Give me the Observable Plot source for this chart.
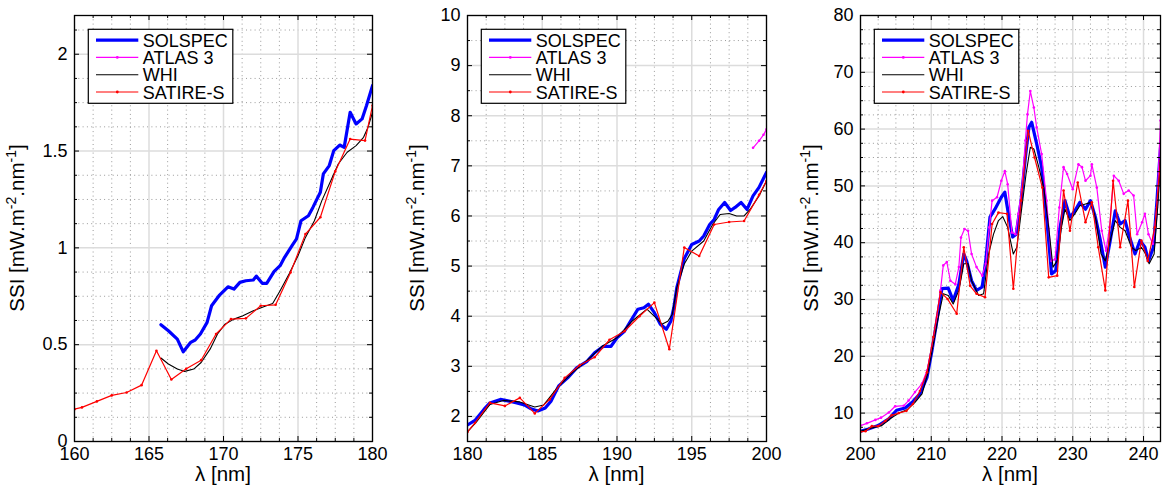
<!DOCTYPE html>
<html><head><meta charset="utf-8">
<script src="https://cdn.jsdelivr.net/npm/d3@7"></script>
<script src="https://cdn.jsdelivr.net/npm/@observablehq/plot@0.6"></script>
<style>
body{margin:0;background:#fff;}
#wrap{position:relative;width:1165px;height:488px;overflow:hidden;font-family:"Liberation Sans",Arial,sans-serif;}
#wrap svg{position:absolute;top:0;overflow:visible;}
</style></head><body><div id="wrap"></div>
<script>
// ---------- Panel 1 (160-180 nm) ----------
const p1SolspecX = [165.8,166.3,166.9,167.3,167.8,168.1,168.45,168.9,169.2,169.7,170.3,170.7,171.1,171.5,172.0,172.2,172.6,172.9,173.4,173.8,174.1,174.6,174.9,175.2,175.7,176.0,176.5,176.7,177.1,177.4,177.8,178.1,178.5,178.9,179.3,179.6,180];
const p1SolspecY = [0.603,0.572,0.529,0.463,0.512,0.524,0.555,0.615,0.701,0.753,0.799,0.787,0.822,0.830,0.834,0.854,0.817,0.817,0.879,0.908,0.951,1.011,1.046,1.140,1.166,1.209,1.287,1.382,1.425,1.502,1.531,1.519,1.700,1.640,1.666,1.735,1.838];
const p1AtlasX = [];
const p1AtlasY = [];
const p1WhiX = [165.8,166.3,166.9,167.4,168.0,168.5,169.1,169.6,170.1,170.7,171.3,172.0,172.7,173.3,173.8,174.4,175.0,175.5,176.1,176.6,177.2,177.7,178.3,178.9,179.4,179.7,180];
const p1WhiY = [0.431,0.400,0.374,0.362,0.374,0.408,0.477,0.555,0.606,0.632,0.649,0.675,0.696,0.713,0.779,0.865,0.959,1.054,1.140,1.244,1.347,1.433,1.494,1.528,1.571,1.623,1.700];
const p1SatireX = [160,160.5,161.5,162.5,163.5,164.5,165.5,166.5,167.5,168.5,169.5,170.5,171.5,172.5,173.5,174.5,175.5,176.5,177.5,178.5,179.5,180];
const p1SatireY = [0.167,0.176,0.207,0.238,0.253,0.291,0.469,0.320,0.376,0.420,0.555,0.632,0.636,0.701,0.706,0.873,1.071,1.158,1.395,1.562,1.554,1.735];

// ---------- Panel 2 (180-200 nm) ----------
const p2SolspecX = [180,180.5,181.1,181.5,182.2,182.7,183.3,183.8,184.2,184.7,185.2,185.6,186.1,186.7,187.3,188,188.5,189.1,189.6,190,190.5,190.9,191.4,191.8,192.1,192.5,192.9,193.3,193.6,193.8,194,194.5,195,195.5,195.8,196.2,196.5,196.8,197.2,197.6,197.9,198.3,198.7,199.1,199.5,200];
const p2SolspecY = [1.83,1.92,2.14,2.27,2.34,2.31,2.27,2.23,2.16,2.11,2.17,2.31,2.61,2.77,2.97,3.10,3.27,3.40,3.40,3.57,3.70,3.90,4.14,4.17,4.24,4.07,3.84,3.74,3.90,4.17,4.57,5.15,5.43,5.50,5.60,5.83,5.93,6.13,6.27,6.11,6.17,6.27,6.13,6.40,6.57,6.87];
const p2AtlasX = [199.1,199.5,199.8,200];
const p2AtlasY = [7.36,7.50,7.62,7.73];
const p2WhiX = [180,180.6,181.5,182.4,183.5,184.5,185.1,186,187,188,189,190,191,192,192.7,193,193.4,193.7,194,194.5,195,195.8,196.4,196.9,197.5,198,198.5,198.9,199.5,200];
const p2WhiY = [1.69,1.89,2.24,2.32,2.29,2.19,2.23,2.57,2.87,3.12,3.40,3.57,3.90,4.14,3.94,3.84,3.90,4.04,4.57,5.04,5.30,5.50,5.83,6.03,6.05,6.00,6.00,6.13,6.40,6.70];
const p2SatireX = [180,180.5,181.5,182.5,183.5,184.5,185.5,186.5,187.5,188.5,189.5,190.5,191.5,192.5,193.5,194.5,195.5,196.5,197.5,198.5,199.5,200];
const p2SatireY = [1.69,1.87,2.27,2.21,2.37,2.06,2.34,2.77,3.02,3.18,3.53,3.70,4.00,4.27,3.34,5.37,5.20,5.83,5.88,5.90,6.42,6.70];

// ---------- Panel 3 (200-242 nm) ----------
const p3SolspecX = [200,201.1,202.5,204.0,205.1,206.3,207.3,208.4,209.4,210.1,210.8,211.5,212.4,213.1,213.9,214.6,215.0,215.7,216.4,217.2,217.7,218.3,219.0,219.9,220.4,220.9,221.5,222.0,222.7,223.3,223.8,224.2,224.9,225.6,226.3,227.0,227.6,228.2,228.9,229.6,230.3,231.0,231.8,232.5,233.2,233.9,234.6,235.3,236.0,236.7,237.4,237.9,238.8,239.5,240.2,240.7,241.4,241.9,242.4];
const p3SolspecY = [6.8,7.2,7.8,9.0,10.5,10.9,11.9,13.4,16.3,21.0,26.3,31.9,32.0,29.8,32.7,38.0,36.8,33.3,31.6,32.2,36.8,44.5,45.9,48.0,48.9,45.1,41.0,41.5,47.4,55.0,60.3,61.2,57.4,53.3,44.5,34.5,35.1,42.7,47.4,44.5,45.6,47.1,45.9,47.4,44.5,40.4,35.7,40.4,45.6,43.3,43.9,41.5,38.0,40.4,39.2,36.8,39.2,47.4,56.8];
const p3AtlasX = [200,200.9,202.1,202.9,204.0,204.9,206.1,206.8,207.7,208.7,209.4,210.1,210.8,211.3,211.7,212.2,212.7,213.4,213.9,214.2,214.7,215.2,215.7,216.4,217.2,217.7,218.2,218.6,219.3,219.9,220.4,220.8,221.4,221.9,222.3,222.8,223.3,223.6,224.0,224.5,224.9,225.6,226.3,227.0,227.5,228.1,228.7,229.2,230.0,230.8,231.3,231.8,232.5,232.7,233.4,234.1,234.7,235.2,235.8,236.5,237.2,237.9,238.6,239.1,239.8,240.2,240.7,241.3,241.9,242.4];
const p3AtlasY = [7.8,8.2,8.8,9.2,10.1,11.2,11.3,12.2,13.7,15.2,17.5,21.6,26.9,31.6,36.0,36.6,33.3,32.7,35.7,40.9,42.4,42.1,38.0,35.7,34.2,36.3,42.7,47.4,48.0,50.9,52.6,50.3,41.8,41.5,45.1,49.4,58.0,62.6,66.7,63.8,60.3,55.6,47.4,36.8,37.1,46.2,53.3,52.1,49.4,53.8,53.3,50.9,51.8,53.8,49.7,42.1,38.6,42.7,51.8,50.9,48.6,49.2,48.3,41.5,43.6,45.1,41.5,39.8,46.2,61.5];
const p3WhiX = [200,201.6,203.0,204.2,205.4,206.6,207.7,208.7,209.5,210.3,211.0,211.7,212.4,213.1,213.9,214.6,215.2,215.7,216.7,217.4,218.1,218.8,219.5,220.1,220.8,221.6,222.1,222.8,223.4,224.0,224.5,225.2,225.9,226.6,227.2,227.8,228.4,228.9,229.6,230.3,231.0,231.8,232.6,233.3,234.0,234.6,235.3,236.0,236.7,237.4,238.3,238.9,239.7,240.3,240.8,241.5,242.0,242.4];
const p3WhiY = [6.8,7.4,7.8,9.0,10.0,10.6,11.9,13.4,16.9,22.2,26.9,31.0,30.7,29.2,31.6,36.3,36.3,33.3,30.7,31.0,38.0,41.5,43.9,44.6,42.7,38.0,39.2,46.2,52.1,56.8,56.5,53.3,49.7,42.7,35.7,36.8,42.7,45.9,43.9,45.1,46.5,46.8,47.1,43.9,38.0,36.8,40.4,43.9,42.7,42.1,39.2,38.6,39.2,38.0,36.3,38.0,46.2,55.0];
const p3SatireX = [200,200.7,201.6,202.5,203.5,204.4,205.4,206.5,207.4,208.4,209.4,210.3,211.3,212.3,213.6,214.6,215.5,216.4,217.6,218.6,219.5,220.7,221.6,222.7,223.7,224.6,225.7,226.6,227.8,228.7,229.6,230.7,231.8,232.7,233.6,234.6,235.7,236.7,237.8,238.7,239.7,240.6,241.6,242.4];
const p3SatireY = [6.7,6.8,7.7,7.7,8.6,9.6,10.0,10.4,11.6,13.9,17.2,23.4,31.3,30.1,27.5,39.2,32.4,31.0,30.4,43.3,45.3,45.1,31.9,47.4,59.7,55.0,49.7,33.9,34.2,49.2,42.1,50.6,43.6,47.1,39.2,31.6,50.9,39.2,47.4,32.2,40.4,36.8,42.7,54.4];

// ---------- Axes / labels ----------
const p1XTicks = [160,165,170,175,180];
const p1YTicks = [0,0.5,1,1.5,2];
const p2XTicks = [180,185,190,195,200];
const p2YTicks = [2,3,4,5,6,7,8,9,10];
const p3XTicks = [200,210,220,230,240];
const p3YTicks = [10,20,30,40,50,60,70,80];
const seriesNames = ["SOLSPEC","ATLAS 3","WHI","SATIRE-S"];
const xLabel = "λ [nm]";

const FONT = '"Liberation Sans", Arial, Helvetica, sans-serif';
const W = 388, H = 488, ML = 74, MT = 15, MB = 47;
const LABEL_FS = 20.5, SUP_FS = 14;

function pts(xs, ys){ return xs.map((x,i)=>({x, y: ys[i]})); }
function minors(lo, hi, step, majors){
  const out=[]; for(let v=lo; v<=hi+1e-9; v+=step){ const r=+v.toFixed(4); if(!majors.some(m=>Math.abs(m-r)<1e-6)) out.push(r);} return out;
}

function panel(cfg){
  const {left, mr, xdom, ydom, xt, yt, xmStep, ymStep, sol, atl, whi, sat, ylabX} = cfg;
  const PW = W - ML - mr, PH = H - MT - MB;
  const xm = minors(xdom[0], xdom[1], xmStep, xt);
  const ym = minors(ydom[0], ydom[1], ymStep, yt);
  const majLen = 5, minLen = 3;
  const svg = Plot.plot({
    width: W, height: H, marginLeft: ML, marginRight: mr, marginTop: MT, marginBottom: MB,
    x: {domain: xdom}, y: {domain: ydom},
    style: {fontFamily: FONT, fontSize: "18px", background: "transparent", color: "#000", overflow:"visible"},
    marks: [
      Plot.gridX(xm, {stroke: "#9a9a9a", strokeOpacity: 1, strokeWidth: 1, strokeDasharray: "1,3.3"}),
      Plot.gridY(ym, {stroke: "#9a9a9a", strokeOpacity: 1, strokeWidth: 1, strokeDasharray: "1,3.3"}),
      Plot.gridX(xt, {stroke: "#dcdcdc", strokeOpacity: 1, strokeWidth: 1.5}),
      Plot.gridY(yt, {stroke: "#dcdcdc", strokeOpacity: 1, strokeWidth: 1.5}),
      Plot.line(sol, {x: "x", y: "y", stroke: "#0000ff", strokeWidth: 3.2, clip: true, strokeLinejoin:"round"}),
      Plot.line(atl, {x: "x", y: "y", stroke: "#ff00ff", strokeWidth: 1.2, clip: true}),
      Plot.dot(atl, {x: "x", y: "y", r: 1.3, fill: "#ff00ff", clip: true}),
      Plot.line(whi, {x: "x", y: "y", stroke: "#000000", strokeWidth: 1.1, clip: true}),
      Plot.line(sat, {x: "x", y: "y", stroke: "#ff0000", strokeWidth: 1.2, clip: true}),
      Plot.dot(sat, {x: "x", y: "y", r: 1.3, fill: "#ff0000", clip: true}),
      // inner ticks: bottom / top
      Plot.tickX(xt, {x: d=>d, stroke:"#000", strokeWidth:1, insetTop: PH - majLen}),
      Plot.tickX(xt, {x: d=>d, stroke:"#000", strokeWidth:1, insetBottom: PH - majLen}),
      Plot.tickX(xm, {x: d=>d, stroke:"#000", strokeWidth:1, insetTop: PH - minLen}),
      Plot.tickX(xm, {x: d=>d, stroke:"#000", strokeWidth:1, insetBottom: PH - minLen}),
      // inner ticks: left / right
      Plot.tickY(yt, {y: d=>d, stroke:"#000", strokeWidth:1, insetRight: PW - majLen}),
      Plot.tickY(yt, {y: d=>d, stroke:"#000", strokeWidth:1, insetLeft: PW - majLen}),
      Plot.tickY(ym, {y: d=>d, stroke:"#000", strokeWidth:1, insetRight: PW - minLen}),
      Plot.tickY(ym, {y: d=>d, stroke:"#000", strokeWidth:1, insetLeft: PW - minLen}),
      Plot.frame({stroke: "#000", strokeWidth: 1.3}),
      Plot.axisX(xt, {anchor: "bottom", tickSize: 0, tickPadding: 6, fontSize: 18, label: null, fill:"#000", tickFormat: d => String(d)}),
      Plot.axisY(yt, {anchor: "left", tickSize: 0, tickPadding: 7, fontSize: 18, label: null, fill:"#000", tickFormat: d => String(d)})
    ]
  });
  svg.style.left = left + "px";
  const s = d3.select(svg);
  // y label with superscripts
  const cy = MT + PH/2;
  const t = s.append("text").attr("transform", `translate(${ylabX},${cy}) rotate(-90)`)
    .attr("text-anchor","middle").attr("font-size",LABEL_FS).attr("font-family",FONT).attr("fill","#000");
  t.append("tspan").text("SSI [mW.m");
  t.append("tspan").attr("dy",-8).attr("font-size",SUP_FS).text("-2");
  t.append("tspan").attr("dy",8).text(".nm");
  t.append("tspan").attr("dy",-8).attr("font-size",SUP_FS).text("-1");
  t.append("tspan").attr("dy",8).text("]");
  // x label
  s.append("text").attr("x", ML + PW/2).attr("y", 481).attr("text-anchor","middle")
    .attr("font-size",LABEL_FS).attr("font-family",FONT).attr("fill","#000").text(xLabel);
  // legend
  const bx = ML + 14.3, by = 29.3, bw = 144.5, bh = 74;
  const g = s.append("g");
  g.append("rect").attr("x",bx).attr("y",by).attr("width",bw).attr("height",bh)
    .attr("fill","#fff").attr("stroke","#000").attr("stroke-width",1.2);
  const styles = [
    {c:"#0000ff", w:3.2, dot:false},
    {c:"#ff00ff", w:1.2, dot:true},
    {c:"#000000", w:1.1, dot:false},
    {c:"#ff0000", w:1.2, dot:true}
  ];
  seriesNames.forEach((name,i)=>{
    const yy = by + 10.8 + i*17.3;
    const st = styles[i];
    g.append("line").attr("x1",bx+7.7).attr("x2",bx+50).attr("y1",yy).attr("y2",yy)
      .attr("stroke",st.c).attr("stroke-width",st.w);
    if(st.dot) g.append("circle").attr("cx",bx+29).attr("cy",yy).attr("r",1.4).attr("fill",st.c);
    g.append("text").attr("x",bx+54.5).attr("y",yy+6.5).attr("font-size",18)
      .attr("text-anchor","start")
      .attr("font-family",FONT).attr("fill","#000").text(name);
  });
  document.getElementById("wrap").appendChild(svg);
}

panel({left:0, mr:16, xdom:[160,180], ydom:[0,2.2], xt:p1XTicks, yt:p1YTicks, xmStep:1.25, ymStep:0.125,
  sol:pts(p1SolspecX,p1SolspecY), atl:pts(p1AtlasX,p1AtlasY), whi:pts(p1WhiX,p1WhiY), sat:pts(p1SatireX,p1SatireY), ylabX:24});
panel({left:393, mr:15, xdom:[180,200], ydom:[1.5,10], xt:p2XTicks, yt:p2YTicks, xmStep:1.25, ymStep:0.5,
  sol:pts(p2SolspecX,p2SolspecY), atl:pts(p2AtlasX,p2AtlasY), whi:pts(p2WhiX,p2WhiY), sat:pts(p2SatireX,p2SatireY), ylabX:31});
panel({left:786, mr:14, xdom:[200,242.4], ydom:[5,80], xt:p3XTicks, yt:p3YTicks, xmStep:2.5, ymStep:2.5,
  sol:pts(p3SolspecX,p3SolspecY), atl:pts(p3AtlasX,p3AtlasY), whi:pts(p3WhiX,p3WhiY), sat:pts(p3SatireX,p3SatireY), ylabX:31.5});
</script></body></html>
